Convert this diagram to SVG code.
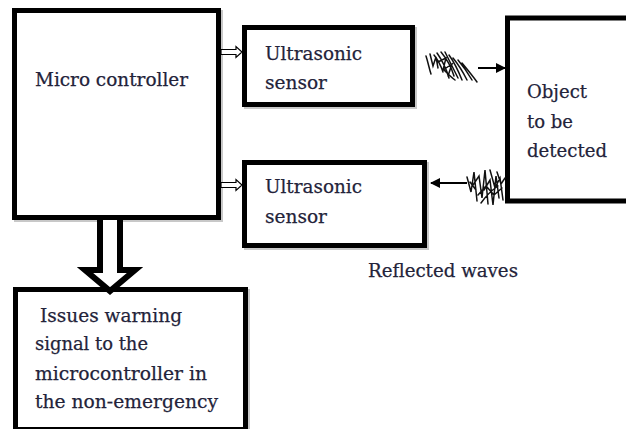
<svg xmlns="http://www.w3.org/2000/svg" width="626" height="429" viewBox="0 0 626 429">
<style>
.box{fill:#fff;stroke:#000;stroke-width:5}
.sh{fill:none;stroke:#c8c8c8;stroke-width:5}
.t{font-family:"DejaVu Serif","Liberation Serif",serif;font-size:19px;fill:#23233a;stroke:#23233a;stroke-width:0.25}
.scr{fill:none;stroke:#111;stroke-width:1.5;stroke-linecap:round}
.ln{stroke:#000;stroke-width:2;fill:none}
</style>
<defs>
<marker id="ah" viewBox="0 0 10 10" refX="9" refY="5" markerWidth="5" markerHeight="5" orient="auto-start-reverse" markerUnits="strokeWidth"><path d="M0,0L10,5L0,10z" fill="#000"/></marker>
</defs>
<rect width="626" height="429" fill="#fff"/>
<g id="micro">
<rect class="sh" x="16.5" y="12.5" width="204" height="207"/>
<rect class="box" x="14.5" y="10.5" width="204" height="207"/>
<text class="t" x="35" y="86" textLength="153" lengthAdjust="spacingAndGlyphs">Micro controller</text>
</g>
<g id="sensor1">
<rect class="sh" x="246.5" y="29.5" width="168" height="77"/>
<rect class="box" x="244.5" y="27.5" width="168" height="77"/>
<text class="t" x="265" y="60" textLength="97" lengthAdjust="spacingAndGlyphs">Ultrasonic</text>
<text class="t" x="265" y="89" textLength="62" lengthAdjust="spacingAndGlyphs">sensor</text>
</g>
<g id="sensor2">
<rect class="sh" x="246.5" y="164.5" width="180" height="83"/>
<rect class="box" x="244.5" y="162.5" width="180" height="83"/>
<text class="t" x="265" y="193" textLength="97" lengthAdjust="spacingAndGlyphs">Ultrasonic</text>
<text class="t" x="265" y="223" textLength="62" lengthAdjust="spacingAndGlyphs">sensor</text>
</g>
<g id="object">
<line x1="625" y1="18" x2="625" y2="201" stroke="#999" stroke-width="1"/>
<path class="box" d="M640,18H507.5V201H640"/>
<text class="t" x="527" y="98" textLength="60" lengthAdjust="spacingAndGlyphs">Object</text>
<text class="t" x="527" y="128" textLength="46" lengthAdjust="spacingAndGlyphs">to be</text>
<text class="t" x="527" y="157" textLength="80" lengthAdjust="spacingAndGlyphs">detected</text>
</g>
<g id="warning">
<rect class="sh" x="17.5" y="291.5" width="230" height="140"/>
<rect class="box" x="15.5" y="289.5" width="230" height="140"/>
<text class="t" x="40" y="322" textLength="142" lengthAdjust="spacingAndGlyphs">Issues warning</text>
<text class="t" x="35" y="350" textLength="113" lengthAdjust="spacingAndGlyphs">signal to the</text>
<text class="t" x="35" y="380" textLength="172" lengthAdjust="spacingAndGlyphs">microcontroller in</text>
<text class="t" x="35" y="408" textLength="183" lengthAdjust="spacingAndGlyphs">the non-emergency</text>
</g>
<g id="label">
<text class="t" x="368" y="277" textLength="150" lengthAdjust="spacingAndGlyphs">Reflected waves</text>
</g>
<g id="connectors">
<path d="M221,49.5H236V46.5L242,52L236,57.5V54.5H221Z" fill="#fff" stroke="#000" stroke-width="1.2"/>
<path d="M221,182.5H236V179.5L242,185L236,190.5V187.5H221Z" fill="#fff" stroke="#000" stroke-width="1.2"/>
<path d="M100,220V270H85L110,291L135,270H120V220" fill="#fff" stroke="#000" stroke-width="6" stroke-linejoin="miter"/>
<line class="ln" x1="478" y1="68" x2="505" y2="68" marker-end="url(#ah)"/>
<line class="ln" x1="467" y1="183" x2="431" y2="183" marker-end="url(#ah)"/>
<path class="scr" d="M426,56C428,62 429,68 431,74M430,54L433,66L436,57L438,68M434,55C438,60 441,66 443,72M437,53C442,60 446,68 449,78M441,52C446,58 451,66 454,76M445,52C449,60 453,68 458,78M449,55C454,62 458,70 462,80M453,58C458,64 463,72 467,80M458,60C463,66 468,73 472,80M462,63C467,69 472,75 477,82M438,62L446,58L443,70L452,64L448,76M444,70C448,74 452,78 455,80"/>
<path class="scr" d="M467,177L471,192L474,172L477,201M473,185L479,176L482,198L485,170L488,204M484,190L490,180L493,205L496,176L499,198M490,170L495,188L500,178L503,200M478,195L486,186L494,195L502,188M481,203C486,196 492,190 498,186M470,182L476,190M497,172L501,184L505,178"/>
</g>
</svg>
